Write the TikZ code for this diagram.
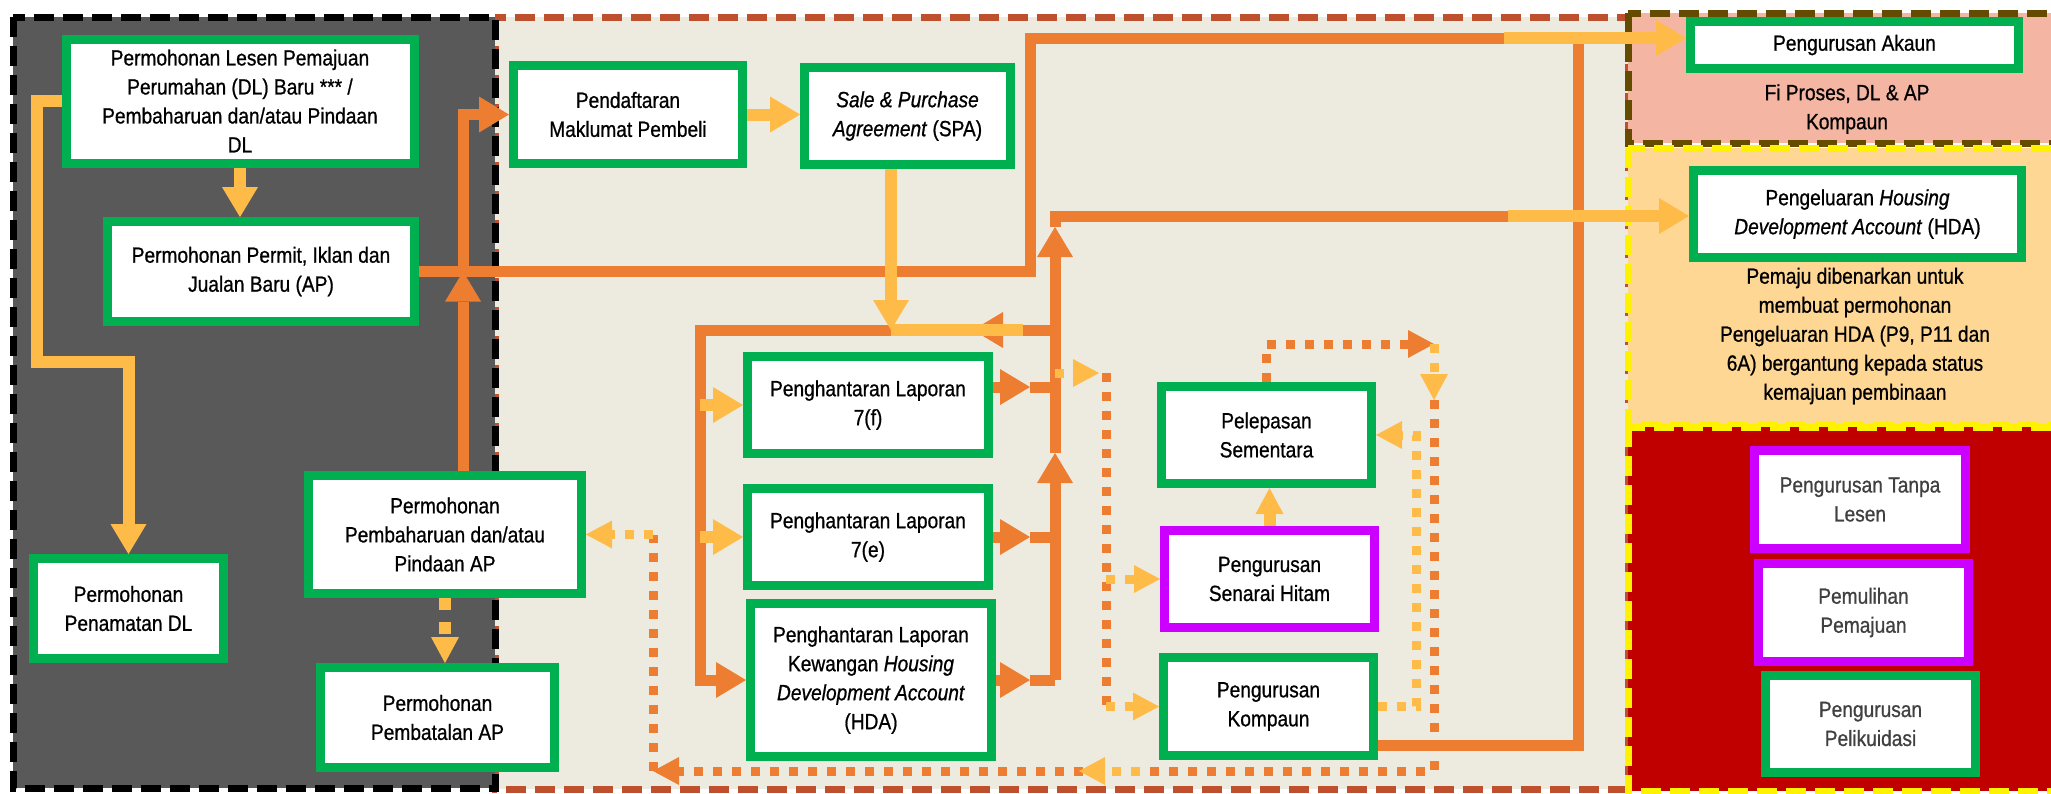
\documentclass[tikz,border=0pt]{standalone}
\usepackage{fontspec}
\setmainfont{Liberation Sans}[FakeStretch=0.87,FakeBold=0.8]
\usetikzlibrary{arrows.meta}

\definecolor{boxgreen}{RGB}{0,176,80}
\definecolor{boxpurple}{RGB}{204,0,255}
\definecolor{flowor}{RGB}{237,125,49}
\definecolor{flowyl}{RGB}{255,187,71}
\definecolor{leftbg}{RGB}{89,89,89}
\definecolor{midbg}{RGB}{237,235,224}
\definecolor{midline}{RGB}{190,80,45}
\definecolor{acctbg}{RGB}{245,181,163}
\definecolor{acctline}{RGB}{100,75,0}
\definecolor{hdabg}{RGB}{255,215,148}
\definecolor{redbg}{RGB}{192,0,0}
\definecolor{greytext}{RGB}{64,64,64}

\tikzset{
  flowtip/.tip={Triangle[length=30pt,width=36pt,line width=0pt]},
  dottip/.tip={Triangle[length=26pt,width=28pt,line width=0pt]},
  box/.style={draw, fill=white, line width=9pt, align=center, inner sep=0pt,
    font=\fontsize{22}{29}\selectfont},
  greenbox/.style={box, draw=boxgreen},
  purplebox/.style={box, draw=boxpurple},
  note/.style={align=center, inner sep=0pt, font=\fontsize{22}{29}\selectfont},
  oline/.style={draw=flowor, line width=11pt},
  yline/.style={draw=flowyl, line width=12pt},
  odot/.style={draw=flowor, line width=9pt, dash pattern=on 9pt off 10pt},
  ydot/.style={draw=flowyl, line width=9pt, dash pattern=on 9pt off 10pt},
  ydash/.style={draw=flowyl, line width=12pt, dash pattern=on 12pt off 12pt},
  panel/.style={line width=7pt, dash pattern=on 20pt off 9pt},
}

\begin{document}
\begin{tikzpicture}[x=1pt,y=-1pt]

  \useasboundingbox (0,0) rectangle (2051,793);

  % panels
  \fill[midbg] (495,17) rectangle (1628,789);
  \draw[midline, panel] (495,17) rectangle (1628,789);
  \fill[leftbg] (13,17) rectangle (495,788);
  \draw[black, panel] (13,17) rectangle (495,788);
  \fill[acctbg] (1628,13) rectangle (2070,143);
  \draw[acctline, panel] (1628,13) rectangle (2070,143);
  \fill[hdabg] (1628,148) rectangle (2070,425);
  \draw[yellow, panel] (1628,148) rectangle (2070,425);
  \fill[redbg] (1628,427) rectangle (2070,791);
  \draw[yellow, panel] (1628,427) rectangle (2070,791);

  % left panel
  \node[greenbox, minimum width=348pt, minimum height=124pt] (dlnew) at (240,101)
    {Permohonan Lesen Pemajuan\\Perumahan (DL) Baru *** /\\Pembaharuan dan/atau Pindaan\\DL};
  \node[greenbox, minimum width=307pt, minimum height=100pt] (permit) at (261,271.5)
    {Permohonan Permit, Iklan dan\\Jualan Baru (AP)};
  \node[greenbox, minimum width=190pt, minimum height=100pt] (penamatan) at (128.5,608.5)
    {Permohonan\\Penamatan DL};
  \node[greenbox, minimum width=273pt, minimum height=118pt] (aprenew) at (445,534.5)
    {Permohonan\\Pembaharuan dan/atau\\Pindaan AP};
  \node[greenbox, minimum width=234pt, minimum height=100pt] (apcancel) at (437.5,717.5)
    {Permohonan\\Pembatalan AP};

  % middle panel
  \node[greenbox, minimum width=229pt, minimum height=98pt] (buyer) at (628,114.5)
    {Pendaftaran\\Maklumat Pembeli};
  \node[greenbox, minimum width=206pt, minimum height=97pt] (spa) at (907.5,116)
    {\textit{Sale \& Purchase}\\\textit{Agreement} (SPA)};
  \node[greenbox, minimum width=241pt, minimum height=97pt] (rptf) at (868,405)
    {Penghantaran Laporan\\7(f)};
  \node[greenbox, minimum width=241pt, minimum height=97pt] (rpte) at (868,537)
    {Penghantaran Laporan\\7(e)};
  \node[greenbox, minimum width=241pt, minimum height=153pt] (rpthda) at (871,680)
    {Penghantaran Laporan\\Kewangan \textit{Housing}\\\textit{Development Account}\\(HDA)};
  \node[greenbox, minimum width=210pt, minimum height=97pt] (release) at (1266.5,435)
    {Pelepasan\\Sementara};
  \node[purplebox, minimum width=210pt, minimum height=97pt] (blacklist) at (1269.5,579)
    {Pengurusan\\Senarai Hitam};
  \node[greenbox, minimum width=210pt, minimum height=98pt] (compound) at (1268.5,706.5)
    {Pengurusan\\Kompaun};

  % right panels
  \node[greenbox, minimum width=328pt, minimum height=47pt] (account) at (1854.5,45)
    {Pengurusan Akaun};
  \node[note] (feenote) at (1847,109) {Fi Proses, DL \& AP\\Kompaun};
  \node[greenbox, minimum width=328pt, minimum height=87pt] (hdaout) at (1857.5,214)
    {Pengeluaran \textit{Housing}\\\textit{Development Account} (HDA)};
  \node[note] (hdanote) at (1855,336)
    {Pemaju dibenarkan untuk\\membuat permohonan\\Pengeluaran HDA (P9, P11 dan\\6A) bergantung kepada status\\kemajuan pembinaan};
  \node[purplebox, text=greytext, minimum width=211pt, minimum height=98pt] (unlicensed) at (1860,499.5)
    {Pengurusan Tanpa\\Lesen};
  \node[purplebox, text=greytext, minimum width=210pt, minimum height=98pt] (recovery) at (1863.5,612.5)
    {Pemulihan\\Pemajuan};
  \node[greenbox, text=greytext, minimum width=210pt, minimum height=97pt] (liquidator) at (1870.5,724)
    {Pengurusan\\Pelikuidasi};

  % junctions
  \coordinate (ya) at (37,362);
  \coordinate (jp) at (463,0);
  \coordinate (jt) at (1030,38);
  \coordinate (jy) at (1504,38);
  \coordinate (kr) at (1578,745);
  \coordinate (tb) at (1055,680);
  \coordinate (tup) at (1055,453);
  \coordinate (tup2) at (1055,227);
  \coordinate (tt) at (1055,216);
  \coordinate (hy) at (1508,216);
  \coordinate (ff) at (1030,387);
  \coordinate (lq) at (973,330);
  \coordinate (lp) at (700,330);
  \coordinate (sp) at (891,330);
  \coordinate (sq) at (1023,330);
  \coordinate (dd) at (1106,373);
  \coordinate (dc) at (1099,373);
  \coordinate (rl) at (1434,344);
  \coordinate (rd) at (1434,400);
  \coordinate (br) at (1434,771);
  \coordinate (bl) at (653,771);
  \coordinate (bz) at (1140,771);
  \coordinate (by) at (1079,771);
  \coordinate (yk) at (1416,0);

  % left panel flows
  \draw[yline,-flowtip] (dlnew.south) -- (dlnew.south |- permit.north);
  \draw[yline,-flowtip] (dlnew.west) -| (ya) -| (penamatan.north);
  \draw[ydash,-dottip] (aprenew.south) -- (aprenew.south |- apcancel.north);
  \draw[oline,-flowtip] (aprenew.north -| jp) -- (jp |- permit.east);
  \draw[oline,-flowtip] (jp |- permit.east) |- (buyer.west);

  % solid orange flows
  \draw[oline] (permit.east) -| (jt) -- (jy);
  \draw[oline] (compound.east |- kr) -- (kr) -- (kr |- jt);
  \draw[oline,-flowtip] (tb) -- (tup);
  \draw[oline,-flowtip] (tup) -- (tup2);
  \draw[oline] (tup2) -- (tt) -- (hy);
  \draw[oline,-flowtip] (rptf.east |- ff) -- (ff);
  \draw[oline] (ff) -- (ff -| tb);
  \draw[oline,-flowtip] (rpte.east) -- (rpte.east -| ff);
  \draw[oline] (rpte.east -| ff) -- (rpte.east -| tb);
  \draw[oline,-flowtip] (rpthda.east) -- (rpthda.east -| ff);
  \draw[oline] (rpthda.east -| ff) -- (tb);
  \draw[oline,-flowtip] (lq -| tb) -- (lq);
  \draw[oline,-flowtip] (lq) -- (lp) |- (rpthda.west);

  % yellow flows
  \draw[yline,-flowtip] (buyer.east) -- (buyer.east -| spa.west);
  \draw[yline,-flowtip] (spa.south -| sp) -- (sp);
  \draw[yline] (sp) -- (sq);
  \draw[yline,-flowtip] (lp |- rptf.west) -- (rptf.west);
  \draw[yline,-flowtip] (lp |- rpte.west) -- (rpte.west);
  \draw[yline,-flowtip] (jy) -- (jy -| account.west);
  \draw[yline,-flowtip] (hy) -- (hy -| hdaout.west);

  % dotted flows
  \draw[ydot,-dottip] (dd -| tb) -- (dc);
  \draw[odot] (dd) -- (dd |- compound.west);
  \draw[ydot,-dottip] (dd |- blacklist.west) -- (blacklist.west);
  \draw[ydot,-dottip] (dd |- compound.west) -- (compound.west);
  \draw[ydash,-dottip] (blacklist.north) -- (blacklist.north |- release.south);
  \draw[ydot,-dottip] (compound.east) -| (yk |- release.east) -- (release.east);
  \draw[odot,-dottip] (release.north) |- (rl);
  \draw[ydot,-dottip] (rl) -- (rd);
  \draw[odot,-dottip] (rd) -- (br) -- (bl);
  \draw[ydot,-dottip] (bz) -- (by);
  \draw[odot] (bl) -- (bl |- aprenew.east);
  \draw[ydot,-dottip] (bl |- aprenew.east) -- (aprenew.east);

\end{tikzpicture}
\end{document}
